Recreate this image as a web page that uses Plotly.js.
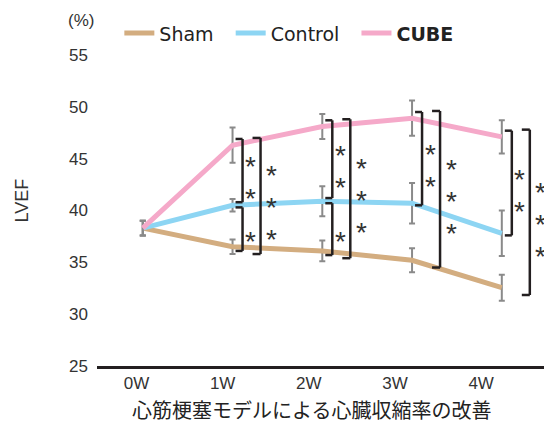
<!DOCTYPE html>
<html>
<head>
<meta charset="utf-8">
<script src="https://cdn.plot.ly/plotly-3.0.1.min.js"></script>
<style>html,body{margin:0;padding:0;background:#fff;}#chart{width:544px;height:423px;}</style>
</head>
<body>
<div id="chart"></div>
<script>
// ---- data ----
const weeks = ['0W', '1W', '2W', '3W', '4W'];
const sham = [38.3, 36.5, 36.1, 35.2, 32.55];
const control = [38.3, 40.5, 40.9, 40.7, 37.8];
const cube = [38.3, 46.3, 48.1, 48.9, 47.1];
const shamErr = [0.7, 0.7, 1.0, 1.15, 1.25];
const controlErr = [0.7, 0.6, 1.45, 1.95, 2.2];
const cubeErr = [0.7, 1.7, 1.2, 1.7, 1.6];
// significance stars per week
const cubeVsControlStars = [0, 2, 2, 2, 2];
const controlVsShamStars = [0, 1, 1, 0, 0];
const cubeVsShamStars = [0, 3, 3, 3, 3];
const yTicks = [25, 30, 35, 40, 45, 50, 55];

const latin = 'Liberation Sans, Arial, sans-serif';
const wide = 'DejaVu Sans, sans-serif';
const xIdx = weeks.map((w, i) => i);
const gap = '&nbsp;&nbsp;';

function trace(name, y, err, color) {
  return {
    type: 'scatter', mode: 'lines', x: xIdx, y: y, name: name,
    line: {color: color, width: 5},
    error_y: {type: 'data', array: err, visible: true, color: '#8a8a8a', thickness: 2, width: 3},
    hoverinfo: 'skip'
  };
}
const data = [
  trace('Sham' + gap, sham, shamErr, '#d3ad80'),
  trace('Control' + gap, control, controlErr, '#8dd5f3'),
  trace('<b>CUBE</b>', cube, cubeErr, '#f5a9c9')
];

const shapes = [];
const annotations = [];
function bracket(i, top, bottom, vx, tickx, starx, n) {
  const base = {type: 'line', xref: 'x', yref: 'y', xsizemode: 'pixel', xanchor: i,
    line: {color: '#231f20', width: 2.5}};
  shapes.push(Object.assign({}, base, {x0: vx, x1: vx, y0: top, y1: bottom}));
  shapes.push(Object.assign({}, base, {x0: tickx, x1: vx, y0: top, y1: top}));
  shapes.push(Object.assign({}, base, {x0: tickx, x1: vx, y0: bottom, y1: bottom}));
  const mid = (top + bottom) / 2;
  for (let k = 0; k < n; k++) {
    annotations.push({xref: 'x', yref: 'y', x: i, y: mid, xshift: starx,
      yshift: -12 - (k - (n - 1) / 2) * 32, text: '*', showarrow: false,
      font: {family: latin, size: 28, color: '#333'}});
  }
}
for (let i = 0; i < weeks.length; i++) {
  if (cubeVsControlStars[i] > 0) {
    const bottom = control[i] + (controlVsShamStars[i] > 0 ? 0.3 : -0.2);
    bracket(i, cube[i] + 0.6, bottom, 10, 3, 18, cubeVsControlStars[i]);
  }
  if (controlVsShamStars[i] > 0) {
    bracket(i, control[i] - 0.2, sham[i] - 0.4, 10, 3, 18, controlVsShamStars[i]);
  }
  if (cubeVsShamStars[i] > 0) {
    bracket(i, cube[i] + 0.7, sham[i] - 0.7, 28, 20, 39, cubeVsShamStars[i]);
  }
}

annotations.push({xref: 'paper', yref: 'paper', x: 0, y: 0, xanchor: 'center', yanchor: 'middle',
  xshift: 214, yshift: -43, text: '心筋梗塞モデルによる心臓収縮率の改善', showarrow: false,
  font: {family: 'Noto Sans CJK JP', size: 20, color: '#222'}});
annotations.push({xref: 'paper', yref: 'paper', x: 0, y: 0.5, xanchor: 'center', yanchor: 'middle',
  xshift: -76, yshift: 10, text: 'LVEF', textangle: -90, showarrow: false,
  font: {family: latin, size: 18, color: '#333'}});
annotations.push({xref: 'paper', yref: 'paper', x: 0, y: 1, xanchor: 'center', yanchor: 'middle',
  xshift: -16, yshift: 35, text: '(%)', showarrow: false,
  font: {family: latin, size: 17, color: '#333'}});

const layout = {
  width: 544, height: 423,
  margin: {l: 97, r: 0, t: 55, b: 57},
  paper_bgcolor: '#fff', plot_bgcolor: '#fff',
  showlegend: true,
  legend: {orientation: 'h', x: 0.05, xanchor: 'left', y: 1.07, yanchor: 'middle',
    font: {family: wide, size: 19, color: '#222'}, itemwidth: 30, tracegroupgap: 0},
  xaxis: {range: [-0.51, 4.47], showgrid: false, zeroline: false,
    showline: true, linecolor: '#231f20', linewidth: 3,
    tickmode: 'array', tickvals: xIdx.map(i => i * 0.96 - 0.07), ticktext: weeks,
    ticks: '', ticklabelstandoff: 0,
    tickfont: {family: latin, size: 17, color: '#333'}},
  yaxis: {range: [25, 55], showgrid: false, zeroline: false, showline: false,
    tickmode: 'array', tickvals: yTicks, ticks: '', ticklabelstandoff: 8,
    tickfont: {family: latin, size: 17, color: '#333'}},
  shapes: shapes,
  annotations: annotations
};
Plotly.newPlot('chart', data, layout, {displayModeBar: false, staticPlot: true});
</script>
</body>
</html>
